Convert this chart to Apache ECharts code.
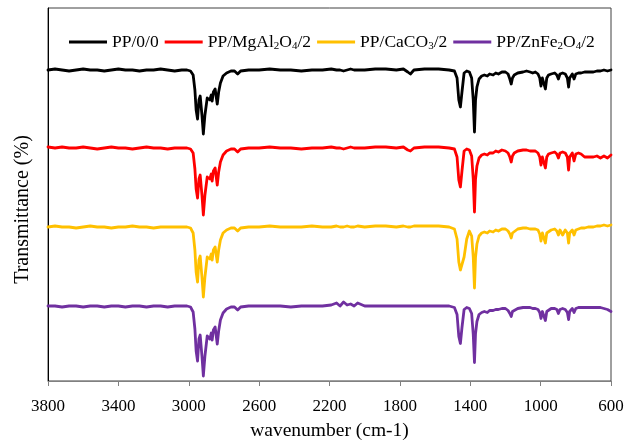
<!DOCTYPE html>
<html><head><meta charset="utf-8">
<script src="https://cdn.jsdelivr.net/npm/echarts@6/dist/echarts.min.js"></script>
<style>html,body{margin:0;padding:0;background:#fff}#c{width:638px;height:441px}</style>
</head><body><div id="c"></div>
<script>
const seriesNames = ['PP/0/0', 'PP/MgAl2O4/2', 'PP/CaCO3/2', 'PP/ZnFe2O4/2'];
const seriesColors = ['#000000', '#FF0000', '#FFC000', '#7030A0'];
const xTickLabels = [3800, 3400, 3000, 2600, 2200, 1800, 1400, 1000, 600];

const wavenumber = [
  3800,3760,3720,3680,3640,3600,3560,3520,3480,3440,3400,3360,3320,3280,3240,3200,3160,3120,3080,3040,
  3010,2990,2975,2965,2958,2950,2942,2935,2925,2917,2908,2895,2880,2872,2867,2860,2850,2843,2838,2830,2820,2805,2785,2760,
  2740,2722,2705,2660,2600,2540,2480,2420,2360,2300,2240,2190,2160,2140,2120,2100,2080,2060,2040,2000,1940,1880,1820,1780,1755,1740,1720,1660,1580,1520,
  1490,1475,1465,1456,1447,1435,1420,1405,1392,1383,1376,1370,1362,1350,1335,1320,1303,1290,1270,1255,1240,1220,
  1200,1185,1175,1167,1160,1150,1130,1100,1080,1060,1045,1030,1015,1005,998,990,983,973,965,955,940,920,908,899,890,875,860,848,841,835,820,810,800,785,770,750,730,720,700,680,660,640,620,600
];

const pp00 = [
  311,312,311,310,311,312,311,311,310,311,312,311,311,310,311,311,312,311,310,311,
  311,310,306,291,271,262,281,285,266,247,266,283,281,286,280,289,292,283,277,289,298,305,308,310,
  310,307,310,311,311,312,311,311,310,311,311,312,311,311,310,311,312,311,311,311,312,312,311,312,309,307,311,312,312,311,
  310,303,281,274,289,308,310,309,303,281,249,281,294,302,305,306,305,307,306,308,307,309,
  309,307,302,297,303,306,308,309,310,309,308,309,307,303,295,303,301,292,303,306,307,308,306,302,307,308,307,303,294,303,307,302,307,308,308,309,309,307,309,310,310,311,310,311
];
const ppMgAl2O4 = [
  234,233,234,233,233,234,233,232,233,234,233,233,232,233,234,233,233,232,233,233,
  233,232,228,212,192,183,202,206,186,166,186,204,202,207,200,210,213,203,196,209,219,226,230,232,
  232,229,232,233,233,234,233,233,232,233,233,234,233,233,232,233,234,233,233,233,234,234,233,234,231,230,233,234,234,233,
  232,224,201,194,210,230,232,231,225,202,169,202,215,223,226,227,226,228,228,230,229,231,
  230,228,224,219,225,228,230,231,231,230,230,230,228,224,216,224,222,213,224,227,228,229,227,223,228,229,228,224,211,224,228,220,227,228,227,224,224,225,224,225,223,225,223,226
];
const ppCaCO3 = [
  154,155,154,154,153,154,155,154,154,153,154,154,155,154,154,153,154,154,154,154,
  154,153,148,131,109,99,121,125,104,84,104,124,122,127,121,131,134,125,119,131,141,148,151,153,
  153,150,153,154,154,155,154,154,154,155,154,154,155,154,154,155,154,154,155,154,155,155,154,155,154,154,155,155,155,154,
  152,142,119,111,112,124,142,150,145,124,93,124,137,145,148,149,148,150,149,151,150,152,
  152,150,147,143,148,150,152,153,153,152,152,152,151,147,140,148,146,138,148,150,151,152,150,146,151,146,151,148,138,148,151,146,151,152,153,153,154,153,154,155,155,156,155,156
];
const ppZnFe2O4 = [
  75,75,74,75,75,74,75,75,74,75,75,74,75,75,74,75,75,74,75,75,
  75,74,69,52,30,20,42,46,25,5,25,45,42,48,41,51,54,44,37,50,61,68,72,74,
  74,71,74,75,75,75,75,74,75,75,75,76,78,75,79,76,77,75,78,75,75,75,75,75,75,75,75,75,75,75,
  73.5,66.5,44.5,37.5,53.5,71.5,73.5,72.5,67.5,46.5,18.5,47.5,59.5,66.5,68.5,69.5,68.5,70.5,70.5,71.5,71.5,72.5,
  72.5,70.5,67.5,64.5,69.5,71.5,72.5,73.5,73.5,73.5,72.5,72.5,71.5,68.5,62.5,69.5,67.5,60.5,69.5,71.5,72.5,72.5,71.5,67.5,71.5,72.5,71.5,68.5,61.5,69.5,72.5,68.5,72.5,73.5,73.5,73.5,73.5,72.5,73.5,73.5,73.5,72.5,71.5,69.5
];

const allValues = [pp00, ppMgAl2O4, ppCaCO3, ppZnFe2O4];
const FONT = '"Liberation Serif", "Times New Roman", serif';

function richName(name) {
  // digits directly after a letter are chemical subscripts
  return '{n|' + name.replace(/([A-Za-z])(\d)/g, '$1}{s|$2}{n|') + '}';
}

const chart = echarts.init(document.getElementById('c'), null, {renderer: 'canvas'});
chart.setOption({
  animation: false,
  backgroundColor: '#ffffff',
  grid: {left: 48, right: 27, top: 8, bottom: 60, containLabel: false, outerBoundsMode: 'none',
         show: true, borderColor: '#404040', borderWidth: 1, backgroundColor: 'transparent'},
  legend: {
    data: seriesNames,
    left: 64, top: 28,
    icon: 'rect', itemWidth: 38, itemHeight: 3, itemGap: 6,
    formatter: richName,
    textStyle: {
      fontFamily: FONT, color: '#000',
      rich: {
        n: {fontFamily: FONT, fontSize: 17.5, color: '#000', lineHeight: 20},
        s: {fontFamily: FONT, fontSize: 11, color: '#000', lineHeight: 12, verticalAlign: 'bottom'}
      }
    }
  },
  xAxis: {
    type: 'value', inverse: true,
    min: Math.min(...xTickLabels), max: Math.max(...xTickLabels), interval: 400,
    name: 'wavenumber (cm-1)', nameLocation: 'middle', nameGap: 40,
    nameTextStyle: {fontFamily: FONT, fontSize: 19.5, color: '#000'},
    axisLine: {show: true, onZero: false, lineStyle: {color: '#808080', width: 1}},
    axisTick: {show: true, inside: false, length: 5, lineStyle: {color: '#808080'}},
    axisLabel: {fontFamily: FONT, fontSize: 17, color: '#000', margin: 17,
                formatter: v => String(v)},
    splitLine: {show: false}
  },
  yAxis: {
    type: 'value', min: 0, max: 373,
    name: 'Transmittance (%)', nameLocation: 'middle', nameGap: 15,
    nameTextStyle: {fontFamily: FONT, fontSize: 20, color: '#000', padding: [0, 30, 0, 0]},
    axisLine: {show: true, onZero: false, lineStyle: {color: '#000', width: 1}},
    axisTick: {show: false}, axisLabel: {show: false}, splitLine: {show: false}
  },
  series: seriesNames.map((name, k) => ({
    name: name, type: 'line',
    data: wavenumber.map((w, i) => [w, allValues[k][i]]),
    showSymbol: false, symbol: 'none', smooth: false,
    color: seriesColors[k],
    lineStyle: {color: seriesColors[k], width: 2.8, join: 'round', cap: 'round'},
    emphasis: {disabled: true}
  }))
});
</script>
</body></html>
